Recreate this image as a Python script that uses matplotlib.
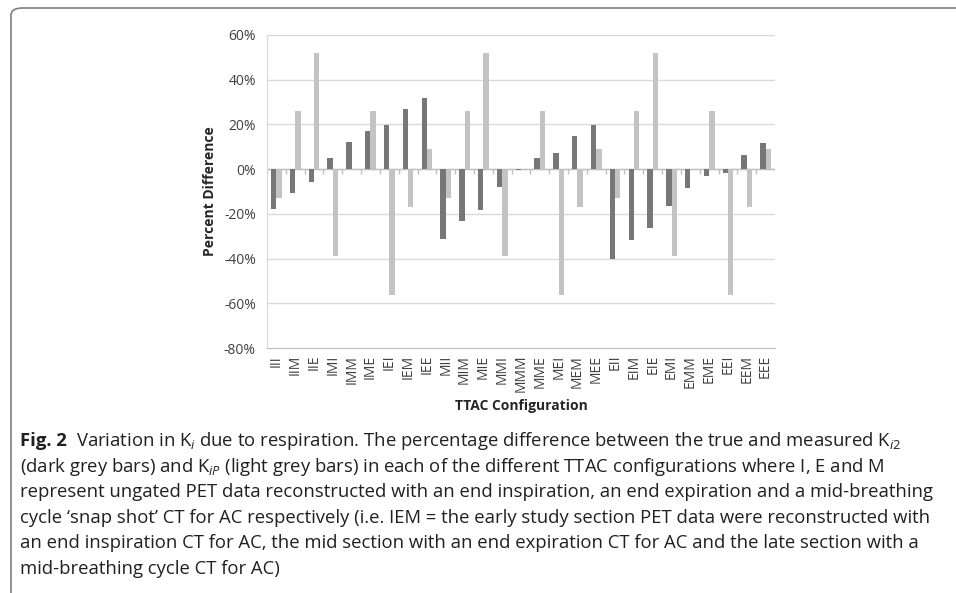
import matplotlib
matplotlib.use("Agg")
import matplotlib.pyplot as plt
import numpy as np
from matplotlib.patches import FancyBboxPatch
from matplotlib.ticker import FuncFormatter

plt.rcParams["font.family"] = ["Open Sans", "DejaVu Sans"]
plt.rcParams["mathtext.fontset"] = "custom"
plt.rcParams["mathtext.rm"] = "Open Sans"
plt.rcParams["mathtext.it"] = "Open Sans:italic"

configs = ["III", "IIM", "IIE", "IMI", "IMM", "IME", "IEI", "IEM", "IEE",
           "MII", "MIM", "MIE", "MMI", "MMM", "MME", "MEI", "MEM", "MEE",
           "EII", "EIM", "EIE", "EMI", "EMM", "EME", "EEI", "EEM", "EEE"]
ki2_diff = [-18.0, -10.8, -5.8, 4.8, 12.3, 17.0, 19.8, 27.1, 32.0,
            -31.2, -23.4, -18.3, -8.0, -0.2, 4.8, 7.0, 14.7, 19.8,
            -40.0, -31.8, -26.2, -16.6, -8.5, -3.1, -1.9, 6.4, 11.8]
kip_diff = [-12.7, 26.2, 52.0, -39.0, -0.3, 25.8, -56.5, -17.0, 8.8,
            -12.7, 26.2, 52.0, -39.0, -0.3, 25.8, -56.5, -17.0, 8.8,
            -12.7, 26.2, 52.0, -39.0, -0.3, 25.8, -56.5, -17.0, 8.8]
y_ticks = [-80, -60, -40, -20, 0, 20, 40, 60]

c_dark = "#777777"
c_light = "#c3c3c3"
c_grid = "#d9d9d9"
c_txt = "#404040"

W, H = 956, 593
fig = plt.figure(figsize=(W / 100, H / 100), dpi=100)
fig.patch.set_facecolor("white")

# page frame: only top and left edges show, rounded corner
frame = FancyBboxPatch((11 / W, -0.2), 1.2, 1.2 - 8 / H,
                       boxstyle="round,pad=0,rounding_size=0.012",
                       transform=fig.transFigure, facecolor="none",
                       edgecolor="#7f7f7f", linewidth=1.2, clip_on=False)
fig.patches.append(frame)

ax = fig.add_axes([267 / W, 1 - 348 / H, 508 / W, 313 / H])
x = np.arange(len(configs))
w = 0.286
ax.bar(x - w / 2, ki2_diff, width=w, color=c_dark, zorder=3)
ax.bar(x + w / 2, kip_diff, width=w, color=c_light, zorder=3)

ax.set_xlim(-0.5, len(configs) - 0.5)
ax.set_ylim(-80, 60)
ax.set_yticks(y_ticks)
ax.yaxis.set_major_formatter(FuncFormatter(lambda v, p: f"{v:.0f}%"))
for yv in y_ticks[1:]:
    ax.axhline(yv, color=c_grid, linewidth=1.0, zorder=1)
ax.axhline(0, color="#bfbfbf", linewidth=1.0, zorder=2)
ax.vlines(np.arange(len(configs) + 1) - 0.5, -2.2, 0, color="#bfbfbf",
          linewidth=1.0, zorder=2)

for s in ["top", "right"]:
    ax.spines[s].set_visible(False)
ax.spines["left"].set_color(c_grid)
ax.spines["bottom"].set_color("#bfbfbf")
ax.tick_params(axis="y", length=0, pad=8, labelsize=10, labelcolor=c_txt)
ax.set_xticks(x)
ax.set_xticklabels(configs, rotation=90, fontsize=10, color=c_txt,
                   va="top", ha="center")
ax.tick_params(axis="x", length=0, pad=5)

ax.set_ylabel("Percent Difference", fontsize=10, fontweight="bold",
              color="#262626", labelpad=5)
ax.set_xlabel("TTAC Configuration", fontsize=10, fontweight="bold",
              color="#262626", labelpad=5)

# caption
cap_lines = [
    r"Variation in K$_{i}$ due to respiration. The percentage difference between the true and measured K$_{i2}$",
    r"(dark grey bars) and K$_{iP}$ (light grey bars) in each of the different TTAC configurations where I, E and M",
    "represent ungated PET data reconstructed with an end inspiration, an end expiration and a mid-breathing",
    "cycle \u2018snap shot\u2019 CT for AC respectively (i.e. IEM = the early study section PET data were reconstructed with",
    "an end inspiration CT for AC, the mid section with an end expiration CT for AC and the late section with a",
    "mid-breathing cycle CT for AC)",
]
c_cap = "#231f20"
fs_cap = 13.3
x0 = 20 / W
renderer = fig.canvas.get_renderer()
figlab = fig.text(x0, 1 - 441 / H, "Fig. 2", fontsize=fs_cap, fontweight="bold",
                  color=c_cap, va="center", ha="left")
bb = figlab.get_window_extent(renderer)
for i, line in enumerate(cap_lines):
    yy = 1 - (441 + i * 25.6) / H
    xx = (bb.x1 + 9) / W if i == 0 else x0
    fig.text(xx, yy, line, fontsize=fs_cap, color=c_cap, va="center", ha="left")

fig.savefig("out.png", dpi=100, facecolor="white")
plt.close()
